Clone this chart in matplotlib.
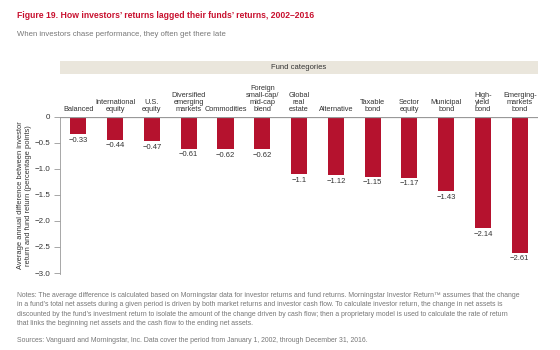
import matplotlib.pyplot as plt
import numpy as np

plt.rcParams['font.family'] = ['Liberation Sans', 'DejaVu Sans']

categories = ["Balanced", "International\nequity", "U.S.\nequity", "Diversified\nemerging\nmarkets",
              "Commodities", "Foreign\nsmall-cap/\nmid-cap\nblend", "Global\nreal\nestate",
              "Alternative", "Taxable\nbond", "Sector\nequity", "Municipal\nbond",
              "High-\nyield\nbond", "Emerging-\nmarkets\nbond"]
values = [-0.33, -0.44, -0.47, -0.61, -0.62, -0.62, -1.1, -1.12, -1.15, -1.17, -1.43, -2.14, -2.61]
value_labels = ["−0.33", "−0.44", "−0.47", "−0.61", "−0.62", "−0.62", "−1.1", "−1.12",
                "−1.15", "−1.17", "−1.43", "−2.14", "−2.61"]
yticks = [0, -0.5, -1.0, -1.5, -2.0, -2.5, -3.0]
ytick_labels = ["0", "−0.5", "−1.0", "−1.5", "−2.0", "−2.5", "−3.0"]

red = "#B5122E"

fig = plt.figure(figsize=(5.6, 3.5), dpi=100)
ax = fig.add_axes([0.107, 0.217, 0.854, 0.449])

x = np.arange(len(values))
ax.bar(x, values, width=0.44, color=red, zorder=2)
for xi, v, lab in zip(x, values, value_labels):
    ax.text(xi, v - 0.05, lab, ha="center", va="top", fontsize=5.5, color="#333333")
    # category labels above the zero line
    ax.text(xi, 0.08, categories[xi], ha="center", va="bottom", fontsize=5.3,
            color="#333333", linespacing=1.0)

ax.set_xlim(-0.5, len(values) - 0.5)
ax.set_ylim(-3.02, 0)
ax.axhline(0, color="#999999", lw=0.9, zorder=3)
ax.set_yticks(yticks)
ax.set_yticklabels(ytick_labels)
ax.set_xticks([])
ax.tick_params(axis="y", labelsize=5.8, colors="#333333", length=4, width=0.6, color="#999999", pad=3)
for s in ["top", "right", "bottom"]:
    ax.spines[s].set_visible(False)
ax.spines["left"].set_color("#999999")
ax.spines["left"].set_linewidth(0.6)
ax.set_ylabel("Average annual difference between investor\nreturn and fund return (percentage points)",
              fontsize=5.4, color="#333333", linespacing=1.05, labelpad=2)

# fund categories band
band = fig.add_axes([0.107, 0.79, 0.854, 0.036])
band.set_facecolor("#EAE6DC")
band.set_xticks([])
band.set_yticks([])
for s in band.spines.values():
    s.set_visible(False)
band.text(0.5, 0.5, "Fund categories", ha="center", va="center", fontsize=5.5, color="#333333")

fig.text(0.03, 0.955, "Figure 19. How investors\u2019 returns lagged their funds\u2019 returns, 2002\u20132016",
         fontsize=6.25, fontweight="bold", color="#C8102E", va="center")
fig.text(0.03, 0.9, "When investors chase performance, they often get there late",
         fontsize=5.6, color="#777777", va="center")

notes = ("Notes: The average difference is calculated based on Morningstar data for investor returns and fund returns. "
         "Morningstar Investor Return\u2122 assumes that the change\n"
         "in a fund\u2019s total net assets during a given period is driven by both market returns and investor cash flow. "
         "To calculate investor return, the change in net assets is\n"
         "discounted by the fund\u2019s investment return to isolate the amount of the change driven by cash flow; "
         "then a proprietary model is used to calculate the rate of return\n"
         "that links the beginning net assets and the cash flow to the ending net assets.")
fig.text(0.03, 0.165, notes, fontsize=4.95, color="#777777", va="top", linespacing=1.45)
fig.text(0.03, 0.026, "Sources: Vanguard and Morningstar, Inc. Data cover the period from January 1, 2002, through December 31, 2016.",
         fontsize=4.95, color="#777777", va="center")

fig.savefig("out.png", dpi=100)
